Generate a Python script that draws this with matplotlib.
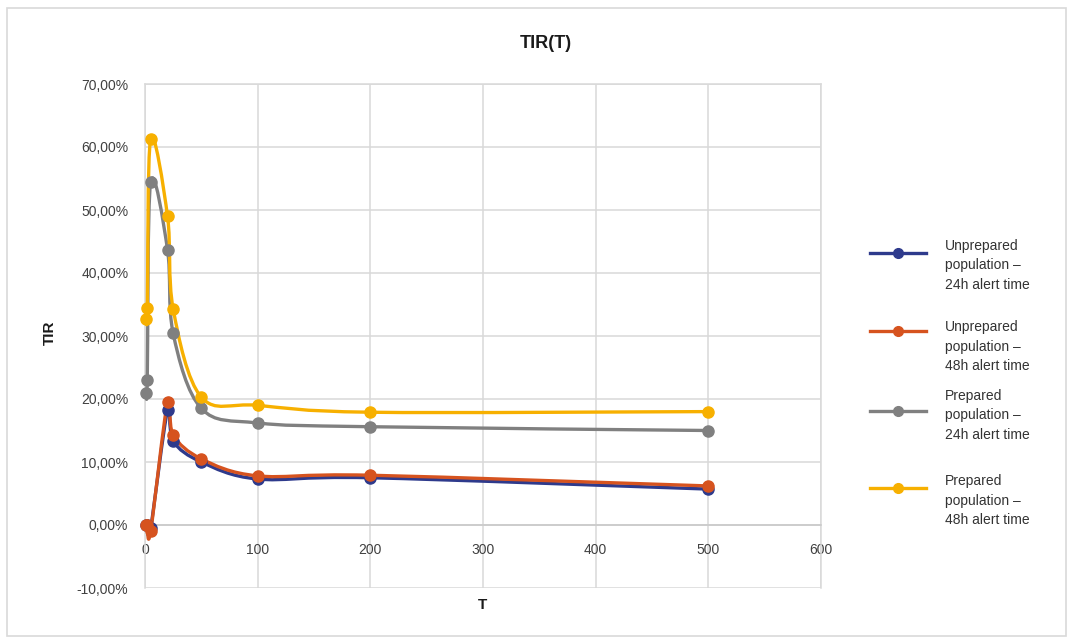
import matplotlib
matplotlib.use("Agg")
import matplotlib.pyplot as plt
from matplotlib.path import Path
from matplotlib.patches import PathPatch, Rectangle
from matplotlib.lines import Line2D
from matplotlib.ticker import FuncFormatter

plt.rcParams['font.family'] = ['Liberation Sans', 'DejaVu Sans']

# ---- data ----
T = [1, 2, 5, 20, 25, 50, 100, 200, 500]
unprep_24 = [0.0, 0.0, -0.5, 18.2, 13.3, 10.0, 7.3, 7.5, 5.7]
unprep_48 = [0.0, 0.0, -1.0, 19.5, 14.3, 10.5, 7.8, 7.9, 6.2]
prep_24 = [21.0, 23.0, 54.4, 43.7, 30.4, 18.5, 16.2, 15.6, 15.0]
prep_48 = [32.7, 34.4, 61.3, 49.0, 34.3, 20.3, 19.0, 17.9, 18.0]

labels = ["Unprepared\npopulation –\n24h alert time",
          "Unprepared\npopulation –\n48h alert time",
          "Prepared\npopulation –\n24h alert time",
          "Prepared\npopulation –\n48h alert time"]
colors = ["#2E3A8C", "#D6531F", "#808080", "#F7B000"]
series = [unprep_24, unprep_48, prep_24, prep_48]

x_ticks = [0, 100, 200, 300, 400, 500, 600]
y_ticks = [-10, 0, 10, 20, 30, 40, 50, 60, 70]

W, H = 1073, 637
fig = plt.figure(figsize=(W / 100, H / 100), dpi=100)
fig.patches.append(Rectangle((7 / W, 1 - 636 / H), (1066 - 7) / W, (636 - 8) / H,
                             transform=fig.transFigure, fill=False,
                             edgecolor="#D9D9D9", linewidth=1.2))

ax = fig.add_axes([145 / W, 1 - 588 / H, (821 - 145) / W, (588 - 84) / H])
ax.set_xlim(0, 600)
ax.set_ylim(-10, 70)
ax.set_xticks(x_ticks)
ax.set_yticks(y_ticks)
ax.yaxis.set_major_formatter(FuncFormatter(lambda v, p: f"{v:.2f}%".replace('.', ',')))
ax.grid(True, color="#D9D9D9", linewidth=1.1)
ax.set_axisbelow(True)
for s in ['top', 'right', 'left']:
    ax.spines[s].set_color("#D9D9D9")
    ax.spines[s].set_linewidth(1.1)
ax.spines['bottom'].set_position(('data', 0))
ax.spines['bottom'].set_color("#C8C8C8")
ax.spines['bottom'].set_linewidth(1.1)
ax.tick_params(axis='both', length=0, labelsize=10, colors="#404040")
ax.tick_params(axis='y', pad=12)
ax.tick_params(axis='x', pad=13)


def smooth_path(xs, ys):
    pts = list(zip(xs, ys))
    n = len(pts)
    verts = [pts[0]]
    codes = [Path.MOVETO]
    for i in range(n - 1):
        p0 = pts[i - 1] if i > 0 else pts[i]
        p1 = pts[i]
        p2 = pts[i + 1]
        p3 = pts[i + 2] if i + 2 < n else pts[i + 1]
        c1 = (p1[0] + (p2[0] - p0[0]) / 6, p1[1] + (p2[1] - p0[1]) / 6)
        c2 = (p2[0] - (p3[0] - p1[0]) / 6, p2[1] - (p3[1] - p1[1]) / 6)
        verts += [c1, c2, p2]
        codes += [Path.CURVE4] * 3
    return Path(verts, codes)


for ys, c in zip(series, colors):
    ax.add_patch(PathPatch(smooth_path(T, ys), facecolor='none', edgecolor=c,
                           linewidth=2.4, capstyle='round', joinstyle='round', zorder=3))
    ax.plot(T, ys, linestyle='none', marker='o', markersize=8, color=c, zorder=4,
            clip_on=False)

fig.text(546 / W, 1 - 43 / H, "TIR(T)", ha='center', va='center',
         fontsize=13, fontweight='bold', color="#1a1a1a")
fig.text(50 / W, 1 - 333 / H, "TIR", ha='center', va='center', rotation=90,
         fontsize=11, fontweight='bold', color="#1a1a1a")
fig.text(482 / W, 1 - 605 / H, "T", ha='center', va='center',
         fontsize=11, fontweight='bold', color="#1a1a1a")

# legend (manual placement)
marker_y = [253, 331, 411, 488]
text_top = [239, 320, 389, 474]
for lab, c, my, ty in zip(labels, colors, marker_y, text_top):
    fig.add_artist(Line2D([870 / W, 926 / W], [1 - my / H, 1 - my / H],
                          transform=fig.transFigure, color=c, linewidth=2.4))
    fig.add_artist(Line2D([898 / W], [1 - my / H], transform=fig.transFigure,
                          color=c, marker='o', markersize=7, linestyle='none'))
    fig.text(945 / W, 1 - ty / H, lab, ha='left', va='top', fontsize=10,
             linespacing=1.5, color="#333333")

fig.savefig("out.png", dpi=100)
